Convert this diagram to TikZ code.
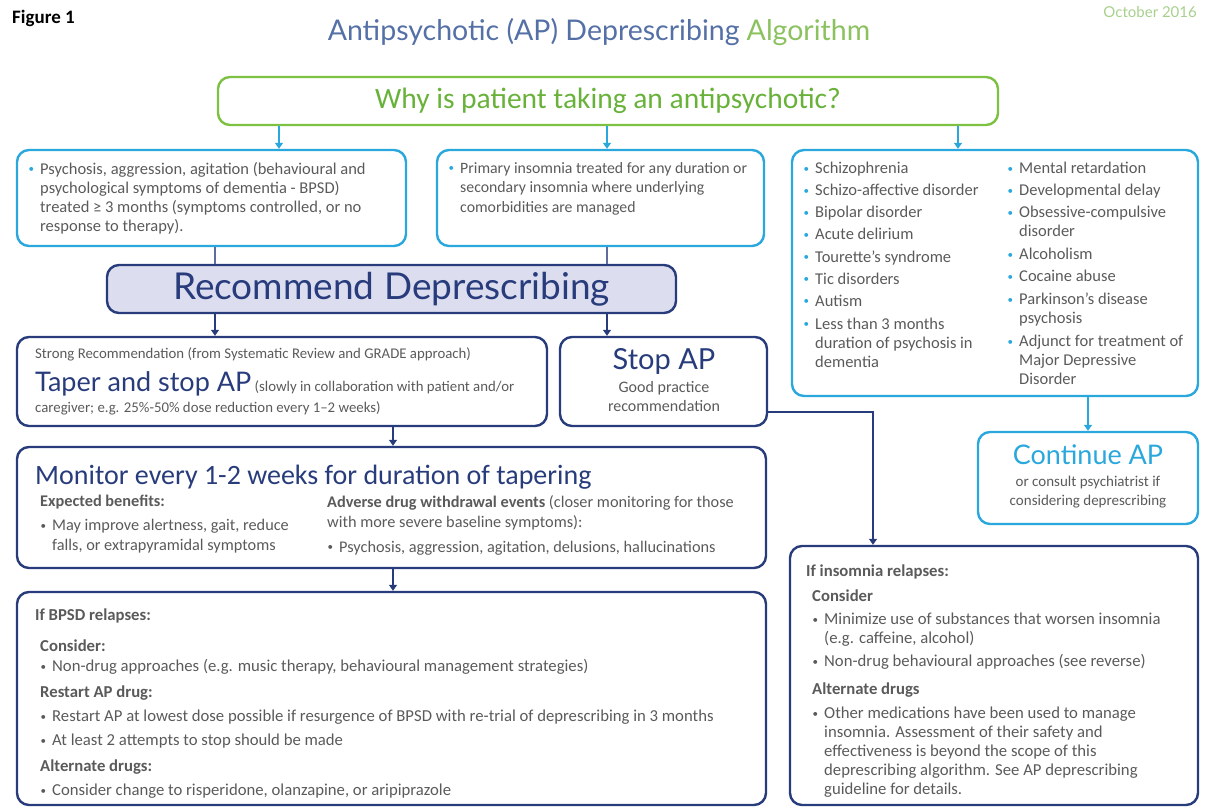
\documentclass[tikz,border=0pt]{standalone}
\usepackage{fontspec}
\setmainfont{Carlito}
\newfontfamily\headfont{Lato}
\usetikzlibrary{arrows.meta}
\definecolor{navy}{HTML}{283C7C}
\definecolor{cyanc}{HTML}{2AA8DD}
\definecolor{greenb}{HTML}{7DC142}
\definecolor{greent}{HTML}{69B23A}
\definecolor{graytxt}{HTML}{5A5A5A}
\definecolor{lav}{HTML}{DCDDEF}
\definecolor{titleblue}{HTML}{5470A6}
\definecolor{titlegreen}{HTML}{8CC15F}
\definecolor{octgreen}{HTML}{A8D08D}
\newcommand\smbul{\raisebox{1.6pt}{\fontsize{11}{11}\selectfont\textbullet}}
\newcommand\cbul{\llap{\textcolor{cyanc}{\smbul}\hspace{6pt}}}
\newcommand\gbul{\hspace*{12pt}\llap{\smbul\hspace{6pt}}}
\newcommand\gind{\hspace*{12pt}}
\begin{document}
\begin{tikzpicture}[x=1pt,y=-1pt,
  box/.style={rounded corners=12pt, line width=2.4pt, inner sep=0pt},
  cbox/.style={box, draw=cyanc},
  nbox/.style={box, draw=navy},
  gbox/.style={box, draw=greenb},
  txt/.style={anchor=north west, inner sep=0pt, align=left, text=graytxt,
    font=\fontsize{16.5}{19}\selectfont},
  ctxt/.style={inner sep=0pt, align=center, text=graytxt, font=\fontsize{16}{19}\selectfont},
  carr/.style={draw=cyanc, line width=1.3pt, -{Triangle[length=6pt,width=8pt]}},
  narr/.style={draw=navy, line width=1.3pt, -{Triangle[length=6pt,width=8pt]}},
  nline/.style={draw=navy!75, line width=1.3pt}]
\useasboundingbox (0,0) rectangle (1207,807);

% header
\node[anchor=west, inner sep=0pt, font=\fontsize{19}{19}\selectfont\bfseries] (fig) at (12,18) {Figure 1};
\node[inner sep=0pt, font=\headfont\fontsize{28.5}{28.5}\selectfont] (title) at (599,32)
  {\textcolor{titleblue}{Antipsychotic (AP) Deprescribing} \textcolor{titlegreen}{Algorithm}};
\node[anchor=east, inner sep=0pt, text=octgreen, font=\headfont\fontsize{15}{15}\selectfont] (date) at (1197,12) {October 2016};

% boxes
\node[gbox, minimum width=780pt, minimum height=48pt, text=greent,
  font=\fontsize{29.5}{29.5}\selectfont] (why) at (608,101) {Why is patient taking an antipsychotic?};
\node[cbox, minimum width=389pt, minimum height=96pt] (L1) at (211.5,198) {};
\node[cbox, minimum width=327pt, minimum height=96pt] (M1) at (600.5,198) {};
\node[cbox, minimum width=406pt, minimum height=246pt] (R1) at (995,273) {};
\node[nbox, fill=lav, minimum width=569pt, minimum height=48pt, text=navy,
  font=\headfont\fontsize{37}{37}\selectfont] (rec) at (391.5,289) {Recommend Deprescribing};
\node[nbox, minimum width=530pt, minimum height=89pt] (taper) at (282,381.5) {};
\node[nbox, minimum width=207pt, minimum height=89pt] (stop) at (663.5,381.5) {};
\node[nbox, minimum width=749pt, minimum height=121pt] (mon) at (391.5,507.5) {};
\node[nbox, minimum width=749pt, minimum height=213pt] (bpsd) at (391.5,698.5) {};
\node[nbox, minimum width=408pt, minimum height=259pt] (ins) at (994,675.5) {};
\node[cbox, minimum width=220pt, minimum height=92pt] (cont) at (1088,478) {};

% texts
\node[txt] (L1t) at (40,162) {\cbul Psychosis, aggression, agitation (behavioural and\\
  psychological symptoms of dementia - BPSD)\\
  treated ≥ 3 months (symptoms controlled, or no\\
  response to therapy).};
\node[txt, font=\fontsize{15.8}{19.5}\selectfont] (M1t) at (460,162) {\cbul Primary insomnia treated for any duration or\\
  secondary insomnia where underlying\\
  comorbidities are managed};
\node[txt] (R1a) at (815,162) {\cbul Schizophrenia\\[3pt]
  \cbul Schizo-affective disorder\\[3pt]
  \cbul Bipolar disorder\\[3pt]
  \cbul Acute delirium\\[3.5pt]
  \cbul Tourette’s syndrome\\[3pt]
  \cbul Tic disorders\\[3pt]
  \cbul Autism\\[4pt]
  \cbul Less than 3 months\\
  duration of psychosis in\\
  dementia};
\node[txt] (R1b) at (1019,162) {\cbul Mental retardation\\[3pt]
  \cbul Developmental delay\\[3pt]
  \cbul Obsessive-compulsive\\
  disorder\\[4pt]
  \cbul Alcoholism\\[3pt]
  \cbul Cocaine abuse\\[4pt]
  \cbul Parkinson’s disease\\
  psychosis\\[4pt]
  \cbul Adjunct for treatment of\\
  Major Depressive\\
  Disorder};

\node[anchor=west, inner sep=0pt, text=graytxt, font=\fontsize{14.8}{16}\selectfont] (strong) at (35,354)
  {Strong Recommendation (from Systematic Review and GRADE approach)};
\node[anchor=base west, inner sep=0pt, text=graytxt, font=\fontsize{14.8}{16}\selectfont] (taperh) at (35,391)
  {\textcolor{navy}{\headfont\fontsize{27}{27}\selectfont Taper and stop AP} (slowly in collaboration with patient and/or};
\node[anchor=west, inner sep=0pt, text=graytxt, font=\fontsize{14.8}{16}\selectfont] (care) at (35,408)
  {caregiver; e.g. 25\%-50\% dose reduction every 1–2 weeks)};

\node[inner sep=0pt, text=navy, font=\headfont\fontsize{29}{29}\selectfont] (stoph) at (664,361) {Stop AP};
\node[ctxt] (stopt) at (664,396) {Good practice\\recommendation};

\node[anchor=base west, inner sep=0pt, text=navy, font=\fontsize{28}{28}\selectfont] (monh) at (35,484)
  {Monitor every 1-2 weeks for duration of tapering};
\node[txt, font=\fontsize{16.3}{19.5}\selectfont] (monl) at (40,495) {\textbf{Expected benefits:}\\[4.5pt]
  \gbul May improve alertness, gait, reduce\\
  \gind falls, or extrapyramidal symptoms};
\node[txt, font=\fontsize{16.3}{20}\selectfont] (monr) at (327,495)
  {\textbf{Adverse drug withdrawal events} (closer monitoring for those\\
  with more severe baseline symptoms):\\[5pt]
  \gbul Psychosis, aggression, agitation, delusions, hallucinations};

\node[txt, font=\fontsize{16.7}{24}\selectfont] (bpsdt) at (40,609)
  {\hspace*{-5pt}\textbf{If BPSD relapses:}\\[7pt]
  \textbf{Consider:}\\[-4pt]
  \gbul Non-drug approaches (e.g. music therapy, behavioural management strategies)\\[2pt]
  \textbf{Restart AP drug:}\\
  \gbul Restart AP at lowest dose possible if resurgence of BPSD with re-trial of deprescribing in 3 months\\
  \gbul At least 2 attempts to stop should be made\\[2pt]
  \textbf{Alternate drugs:}\\
  \gbul Consider change to risperidone, olanzapine, or aripiprazole};

\node[txt, font=\fontsize{16.7}{19}\selectfont] (inst) at (812,565)
  {\hspace*{-6pt}\textbf{If insomnia relapses:}\\[6pt]
  \textbf{Consider}\\[4pt]
  \gbul Minimize use of substances that worsen insomnia\\
  \gind (e.g. caffeine, alcohol)\\[4pt]
  \gbul Non-drug behavioural approaches (see reverse)\\[9pt]
  \textbf{Alternate drugs}\\[5pt]
  \gbul Other medications have been used to manage\\
  \gind insomnia. Assessment of their safety and\\
  \gind effectiveness is beyond the scope of this\\
  \gind deprescribing algorithm. See AP deprescribing\\
  \gind guideline for details.};

\node[inner sep=0pt, text=cyanc, font=\headfont\fontsize{27}{27}\selectfont] (conth) at (1088,455) {Continue AP};
\node[ctxt, font=\fontsize{15}{19}\selectfont] (contt) at (1088,492) {or consult psychiatrist if\\considering deprescribing};

% connectors
\coordinate (xa) at (279,0);
\coordinate (xb) at (607,0);
\coordinate (xc) at (958,0);
\coordinate (xd) at (215,0);
\coordinate (xe) at (393,0);
\coordinate (xf) at (1088,0);
\coordinate (sb) at (873,412);
\draw[carr] (why.south -| xa) -- (L1.north -| xa);
\draw[carr] (why.south -| xb) -- (M1.north -| xb);
\draw[carr] (why.south -| xc) -- (R1.north -| xc);
\draw[nline] (L1.south -| xd) -- (rec.north -| xd);
\draw[nline] (M1.south -| xb) -- (rec.north -| xb);
\draw[narr] (rec.south -| xd) -- (taper.north -| xd);
\draw[narr] (rec.south -| xb) -- (stop.north -| xb);
\draw[narr] (taper.south -| xe) -- (mon.north -| xe);
\draw[narr] (mon.south -| xe) -- (bpsd.north -| xe);
\draw[narr] (stop.east |- sb) -| (ins.north -| sb);
\draw[carr] (R1.south -| xf) -- (cont.north -| xf);
\end{tikzpicture}
\end{document}
